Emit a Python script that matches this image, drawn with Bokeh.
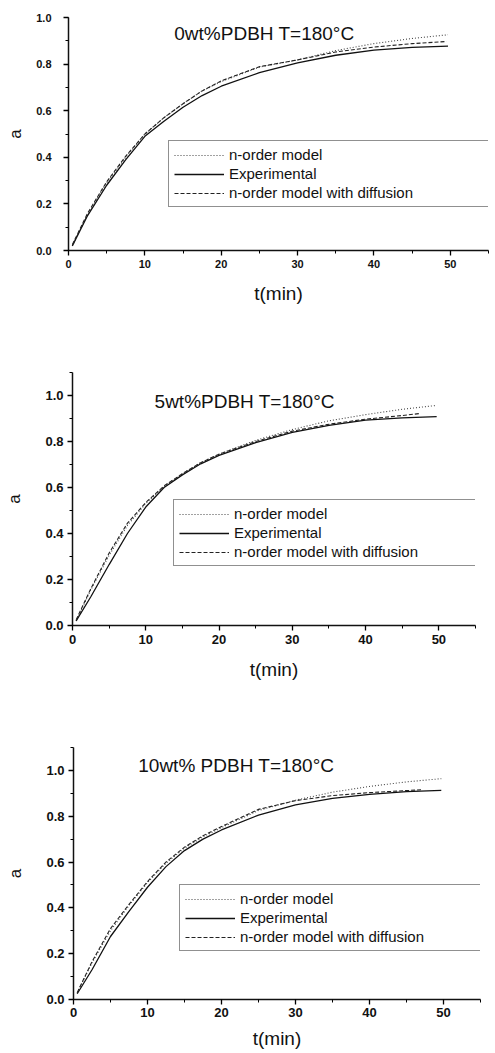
from bokeh.plotting import figure
from bokeh.layouts import column
from bokeh.models import (Range1d, SingleIntervalTicker, NumeralTickFormatter,
                          Legend, LegendItem, Label)
from bokeh.embed import file_html
from bokeh.resources import INLINE

# ---------------- data ----------------
t_grid = [0.5, 2.5, 5, 7.5, 10, 12.5, 15, 17.5, 20, 25, 30, 35, 40, 45, 49.7]

# 0 wt% PDBH
exp_0   = [0.02, 0.15, 0.28, 0.39, 0.49, 0.555, 0.615, 0.665, 0.705, 0.763, 0.805, 0.838, 0.86, 0.872, 0.877]
nord_0  = [0.02, 0.155, 0.29, 0.40, 0.50, 0.57, 0.63, 0.685, 0.725, 0.787, 0.818, 0.858, 0.888, 0.91, 0.926]
ndiff_0 = [0.025, 0.16, 0.295, 0.405, 0.50, 0.57, 0.63, 0.685, 0.728, 0.789, 0.818, 0.852, 0.873, 0.888, 0.897]
tdiff_0 = [0.5, 2.5, 5, 7.5, 10, 12.5, 15, 17.5, 20, 25, 30, 35, 40, 45, 49.5]

# 5 wt% PDBH
exp_5   = [0.02, 0.125, 0.265, 0.40, 0.515, 0.60, 0.655, 0.703, 0.74, 0.795, 0.84, 0.87, 0.893, 0.903, 0.908]
nord_5  = [0.02, 0.155, 0.305, 0.435, 0.53, 0.605, 0.66, 0.708, 0.745, 0.805, 0.852, 0.89, 0.917, 0.94, 0.957]
ndiff_5 = [0.025, 0.16, 0.315, 0.445, 0.535, 0.607, 0.66, 0.708, 0.745, 0.80, 0.845, 0.875, 0.897, 0.913, 0.922]
tdiff_5 = [0.5, 2.5, 5, 7.5, 10, 12.5, 15, 17.5, 20, 25, 30, 35, 40, 45, 47.5]

# 10 wt% PDBH
exp_10   = [0.025, 0.13, 0.275, 0.385, 0.49, 0.58, 0.65, 0.70, 0.74, 0.805, 0.85, 0.878, 0.895, 0.907, 0.913]
nord_10  = [0.03, 0.16, 0.30, 0.41, 0.51, 0.595, 0.66, 0.71, 0.75, 0.825, 0.87, 0.905, 0.93, 0.95, 0.964]
ndiff_10 = [0.03, 0.165, 0.31, 0.415, 0.515, 0.60, 0.665, 0.715, 0.755, 0.83, 0.868, 0.89, 0.903, 0.912, 0.916]
tdiff_10 = [0.5, 2.5, 5, 7.5, 10, 12.5, 15, 17.5, 20, 25, 30, 35, 40, 45, 47.2]

titles = ["0wt%PDBH  T=180°C", "5wt%PDBH T=180°C", "10wt% PDBH T=180°C"]
legend_labels = ["n-order model", "Experimental", "n-order model with diffusion"]
x_label = "t(min)"
y_label = "a"

FONT = "Liberation Sans"


def make_panel(t, exp, nord, tdiff, ndiff, title, ymax, height, bl, br, bt, bb,
               tick_fs, title_pos, leg_loc, leg_w, ylab_standoff, ytick_standoff,
               xtick_standoff, xlab_standoff):
    p = figure(width=495, height=height, x_range=Range1d(0, 55), y_range=Range1d(0, ymax),
               output_backend="svg", toolbar_location=None,
               min_border_left=bl, min_border_right=br, min_border_top=bt, min_border_bottom=bb)
    try:
        p.frame_align = False
    except Exception:
        pass
    p.outline_line_color = None
    p.grid.visible = False
    p.background_fill_color = "white"

    p.xaxis.ticker = SingleIntervalTicker(interval=10, num_minor_ticks=2)
    p.yaxis.ticker = SingleIntervalTicker(interval=0.2, num_minor_ticks=2)
    p.yaxis.formatter = NumeralTickFormatter(format="0.0")
    for ax in (p.xaxis, p.yaxis):
        ax.axis_line_width = 1.5
        ax.axis_line_color = "#111111"
        ax.major_tick_in = 0
        ax.major_tick_out = 5
        ax.minor_tick_in = 0
        ax.minor_tick_out = 3
        ax.major_tick_line_width = 1.3
        ax.minor_tick_line_width = 1
        ax.major_label_text_font = FONT
        ax.major_label_text_font_style = "bold"
        ax.major_label_text_font_size = tick_fs
        ax.major_label_text_color = "#111111"
        ax.axis_label_text_font = FONT
        ax.axis_label_text_font_style = "normal"
        ax.axis_label_text_color = "#111111"
    p.xaxis.major_label_standoff = xtick_standoff
    p.yaxis.major_label_standoff = ytick_standoff
    p.xaxis.axis_label = x_label
    p.yaxis.axis_label = y_label
    p.xaxis.axis_label_text_font_size = "19px"
    p.yaxis.axis_label_text_font_size = "17px"
    p.xaxis.axis_label_standoff = xlab_standoff
    p.yaxis.axis_label_standoff = ylab_standoff

    r_dot = p.line(t, nord, line_color="#444444", line_width=1.1, line_dash="1 2")
    r_sol = p.line(t, exp, line_color="#111111", line_width=1.3)
    r_dsh = p.line(tdiff, ndiff, line_color="#222222", line_width=1.1, line_dash="4 2")

    legend = Legend(items=[LegendItem(label=legend_labels[0], renderers=[r_dot]),
                           LegendItem(label=legend_labels[1], renderers=[r_sol]),
                           LegendItem(label=legend_labels[2], renderers=[r_dsh])],
                    location=leg_loc, glyph_width=50, glyph_height=16, label_height=16,
                    label_width=leg_w, spacing=2, padding=5, margin=0, label_standoff=5,
                    border_line_color="#222222", border_line_width=1,
                    background_fill_color="white", background_fill_alpha=1,
                    label_text_font=FONT, label_text_font_size="15px",
                    label_text_color="#111111")
    p.add_layout(legend)

    p.add_layout(Label(x=title_pos[0], y=title_pos[1], text=title, text_font=FONT,
                       text_font_size="19px", text_baseline="middle", text_align="center",
                       text_color="#111111"))
    return p


p1 = make_panel(t_grid, exp_0, nord_0, tdiff_0, ndiff_0, titles[0], 1.0, 330,
                68, 7, 17, 80, "11px", (26.0, 0.93), (100, 43), 310, 8, 12, 4, 12)
p2 = make_panel(t_grid, exp_5, nord_5, tdiff_5, ndiff_5, titles[1], 1.1, 370,
                72, 20, 42, 75, "13px", (23.5, 0.973), (101, 59), 277, 18, 4, 4, 12)
p3 = make_panel(t_grid, exp_10, nord_10, tdiff_10, ndiff_10, titles[2], 1.1, 353,
                73, 15, 47, 54, "13px", (22.0, 1.022), (106, 48), 300, 18, 4, 3, 8)

layout = column(p1, p2, p3, spacing=0)
open("out.html", "w").write(file_html(layout, INLINE))
